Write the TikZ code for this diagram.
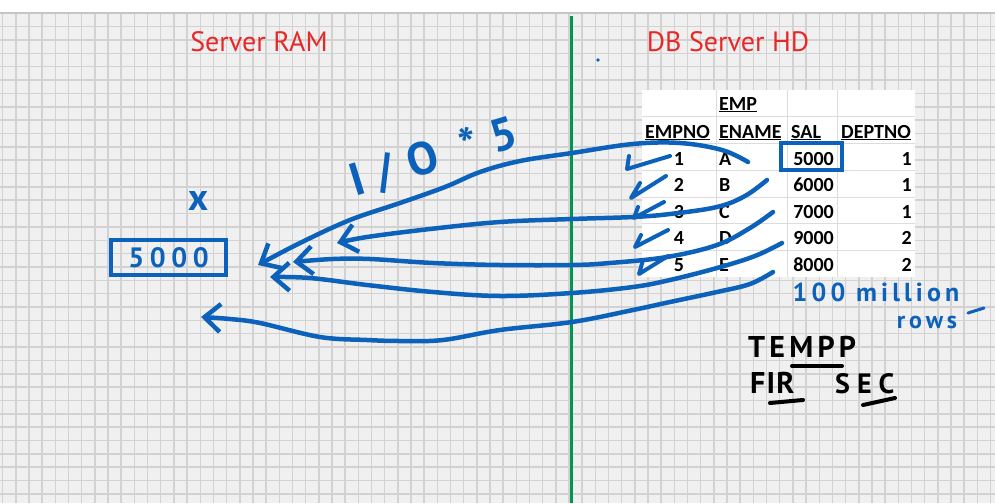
\documentclass[tikz,border=0pt]{standalone}
\usepackage{fontspec}
\setmainfont{Carlito}
\newfontfamily\handfont{PT Sans}
\usepackage{tikz}
\usetikzlibrary{arrows.meta,positioning}
\definecolor{inkblue}{RGB}{12,98,186}
\definecolor{titlered}{RGB}{232,40,40}
\definecolor{divgreen}{RGB}{0,150,80}
\definecolor{paper}{RGB}{240,240,240}
\definecolor{gridgray}{RGB}{210,210,210}
\definecolor{cellgray}{RGB}{220,220,220}
\tikzset{gridline/.style = {draw=gridgray, line width=1.5pt},
         cellline/.style = {draw=cellgray, line width=1pt},
         title/.style = {text=titlered, font=\handfont\fontsize{28}{30}\selectfont},
         cell/.style = {inner sep=0pt, font=\bfseries\fontsize{20}{24}\selectfont},
         ink/.style = {draw=inkblue, line width=4.5pt, line cap=round, line join=round},
         inkarrow/.style = {ink, -{Straight Barb[length=16pt, width=28pt]}},
         hlbox/.style = {draw=inkblue, line width=3.5pt, minimum width=61pt, minimum height=27pt},
         rambox/.style = {draw=inkblue, line width=4pt, minimum width=115pt, minimum height=35pt,
                          text=inkblue, font=\handfont\bfseries\fontsize{28}{30}\selectfont\addfontfeature{LetterSpace=20}},
         inktext/.style = {inner sep=0pt, text=inkblue, font=\handfont\bfseries\fontsize{26}{28}\selectfont\addfontfeature{LetterSpace=16}},
         pentext/.style = {inner sep=0pt, text=black, font=\handfont\bfseries\fontsize{30}{32}\selectfont\addfontfeature{LetterSpace=14}},
         pen/.style = {draw=black, line width=4pt, line cap=round},
}

\begin{document}
\begin{tikzpicture}[x=1pt, y=-1pt]
  \useasboundingbox (0,0) rectangle (995,503);
  \fill[white] (0,0) rectangle (995,13);
  \fill[paper] (0,13) rectangle (995,503);
  \foreach \k in {0,...,75} \draw[gridline] ({2.7+13.17*\k},14) -- ({2.7+13.17*\k},503);
  \foreach \k in {1,...,36} \draw[gridline] (0,{13.3+13.35*\k}) -- (995,{13.3+13.35*\k});
  \draw[gray!45, line width=2pt] (0,13) -- (995,13);
  \draw[divgreen, line width=3pt] (571,16) -- (571,503);

  \node[title, anchor=base] (ram) at (259,52) {Server RAM};
  \node[title, anchor=base] (hd) at (728,52) {DB Server HD};

  % EMP table
  \fill[white] (642,90) rectangle (915,277);
  \foreach \x in {716,787,837} \draw[cellline] (\x,90) -- (\x,277);
  \foreach \y in {116,143,170,197,223,250} \draw[cellline] (642,\y) -- (915,\y);
  \node[cell, anchor=base west] (emp) at (719,110) {\underline{EMP}};
  \node[cell, anchor=base west] (empno) at (645,138) {\underline{EMPNO}};
  \node[cell, anchor=base west] (ename) at (719,138) {\underline{ENAME}};
  \node[cell, anchor=base west] (sal) at (791,138) {\underline{SAL}};
  \node[cell, anchor=base west] (deptno) at (841,138) {\underline{DEPTNO}};
  \foreach \no/\name/\sal/\dept/\y in {1/A/5000/1/165, 2/B/6000/1/191, 3/C/7000/1/218, 4/D/9000/2/244, 5/E/8000/2/271} {
    \node[cell, anchor=base] (no\no) at (679,\y) {\no};
    \node[cell, anchor=base west] (name\no) at (719,\y) {\name};
    \node[cell, anchor=base east] (sal\no) at (834,\y) {\sal};
    \node[cell, anchor=base east] (dept\no) at (912,\y) {\dept};
  }
  \node[hlbox] (salbox) at (811.5,156.5) {};

  % server RAM side
  \node[rambox] (ram5000) at (168.5,257.5) {5000};
  \node[inktext, font=\handfont\bfseries\fontsize{38}{40}\selectfont] (var) at (198,201) {x};
  \node[inktext, rotate=17, font=\handfont\bfseries\fontsize{46}{50}\selectfont\addfontfeature{LetterSpace=30}] (io) at (434,158) {I/O *5};

  \coordinate (s1) at (748,162);
  \coordinate (s2) at (767,180);
  \coordinate (s3) at (773,212);
  \coordinate (s4) at (782,243);
  \coordinate (s5) at (773,272);
  \coordinate (t1) at (258,265);
  \coordinate (t2) at (337,243);
  \coordinate (t3) at (293,262);
  \coordinate (t4) at (270,277);
  \coordinate (t5) at (201,317);

  \draw[inkarrow] plot[smooth, tension=0.6] coordinates {(s1) (722,150) (680,143) (633,144) (572,153) (520,161) (480,172) (445,187) (400,203) (350,220) (300,243) (t1)};
  \draw[inkarrow] plot[smooth, tension=0.6] coordinates {(s2) (745,196) (717,207) (670,214) (633,217) (572,219) (500,222) (430,229) (367,237) (t2)};
  \draw[inkarrow] plot[smooth, tension=0.6] coordinates {(s3) (750,228) (717,245) (667,257) (610,263) (572,265) (500,265) (433,263) (370,259) (333,259) (t3)};
  \draw[inkarrow] plot[smooth, tension=0.6] coordinates {(s4) (755,256) (717,268) (670,280) (633,287) (572,293) (500,296) (433,292) (367,285) (310,278) (t4)};
  \draw[inkarrow] plot[smooth, tension=0.6] coordinates {(s5) (750,284) (717,292) (670,302) (633,310) (572,322) (500,330) (443,340) (400,341) (367,340) (320,337) (260,323) (230,319) (t5)};

  % ticks on the rows
  \draw[ink, line width=4pt] (629,156) -- (627,169) -- (670,156);
  \draw[ink, line width=4pt] (640,183) -- (631,198) -- (666,176);
  \draw[ink, line width=4pt] (638,207) -- (634,218) -- (664,202);
  \draw[ink, line width=4pt] (641,235) -- (635,247) -- (668,230);
  \draw[ink, line width=4pt] (643,260) -- (639,274) -- (668,256);
  \fill[inkblue] (598,60) circle (1.8);

  \node[inktext] (rowcount) at (876,292) {100 million};
  \node[inktext, font=\handfont\bfseries\fontsize{24}{26}\selectfont\addfontfeature{LetterSpace=16}] (rows) at (927,322) {rows};
  \draw[ink, line width=3pt] (968,313) -- (984,308);

  \node[pentext, anchor=west] (tempp) at (748,347) {TEMPP};
  \node[pentext, anchor=west, font=\handfont\bfseries\fontsize{30}{32}\selectfont\addfontfeature{LetterSpace=4}] (fir) at (750,383) {FIR};
  \node[pentext, anchor=west, font=\handfont\bfseries\fontsize{28}{30}\selectfont\addfontfeature{LetterSpace=25}] (sec) at (835,384) {SEC};
  \draw[pen] (792,366) -- (842,366);
  \draw[pen] (770,403) -- (803,400);
  \draw[pen] (863,405) -- (895,398);
\end{tikzpicture}
\end{document}
